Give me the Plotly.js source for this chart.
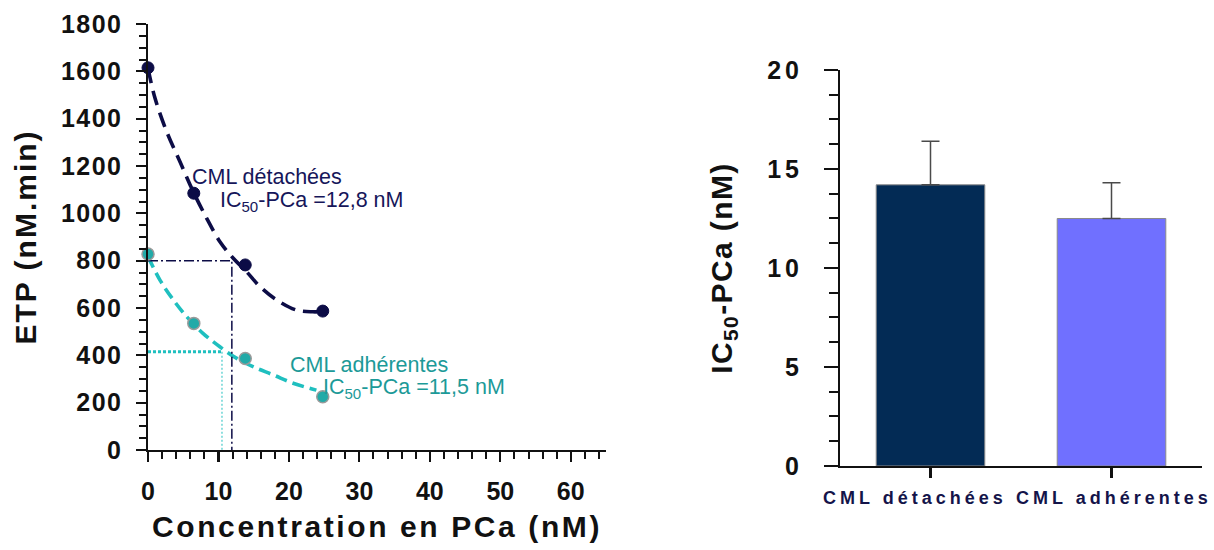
<!DOCTYPE html>
<html>
<head>
<meta charset="utf-8">
<script src="https://cdn.plot.ly/plotly-3.0.1.min.js"></script>
<style>
  html, body { margin: 0; padding: 0; background: #fff; }
  #chart { width: 1214px; height: 550px; }
  .xtitle { letter-spacing: 2.6px; }
  .ytitle { letter-spacing: 2px; }
  .y2title { letter-spacing: 1.4px; }
  .ytick text { letter-spacing: 1.5px; }
  .y2tick text { letter-spacing: 4px; }
  .annotation[data-index="4"] .annotation-text,
  .annotation[data-index="5"] .annotation-text { letter-spacing: 4px; }
</style>
</head>
<body>
<div id="chart"></div>
<script>
// ---- Data ----
const concX = [0, 6.5, 13.8, 24.8];
const etpDetachees = [1615, 1085, 782, 587];
const etpAdherentes = [828, 535, 387, 225];

const fitDetX = [0, 1.0, 2.65, 4.54, 6.43, 8.33, 10.21, 12.1, 14.0, 15.9, 18.26, 21.1, 23.4, 24.8];
const fitDetY = [1613, 1486, 1345, 1218, 1091, 979, 880, 810, 753, 690, 634, 591, 584, 585];
const fitAdhX = [0, 1.7, 3.6, 5.5, 7.8, 10.2, 12.6, 14.9, 17.8, 20.6, 23.9];
const fitAdhY = [817, 718, 634, 563, 493, 436, 387, 352, 317, 282, 253];

const refDetX = [0, 11.9, 11.9];
const refDetY = [800, 800, 0];
const refAdhHX = [0, 10.5];
const refAdhHY = [415, 415];
const refAdhVX = [10.5, 10.5];
const refAdhVY = [415, 0];

const groups = ['CML détachées', 'CML adhérentes'];
const ic50Mean = [14.2, 12.5];
const ic50Err = [2.2, 1.8];

const xTickVals = [0, 10, 20, 30, 40, 50, 60];
const yTickVals = [0, 200, 400, 600, 800, 1000, 1200, 1400, 1600, 1800];
const y2TickVals = [0, 5, 10, 15, 20];

// ---- Styles ----
const NAVY = '#0c0c46';
const TEAL_LINE = '#1fbfbf';
const TEAL_MARK = '#22aaa8';
const TEAL_TEXT = '#1c9a98';
const FONT = 'Arial, "Liberation Sans", sans-serif';

const traces = [
  { x: fitDetX, y: fitDetY, mode: 'lines', line: { color: NAVY, width: 3.6, dash: '15px,8px', shape: 'spline' },
    xaxis: 'x', yaxis: 'y', hoverinfo: 'skip', cliponaxis: false },
  { x: fitAdhX, y: fitAdhY, mode: 'lines', line: { color: TEAL_LINE, width: 3.6, dash: '12px,6px', shape: 'spline' },
    xaxis: 'x', yaxis: 'y', hoverinfo: 'skip', cliponaxis: false },
  { x: refDetX, y: refDetY, mode: 'lines', line: { color: NAVY, width: 1.5, dash: '10px,3px,2px,3px' },
    xaxis: 'x', yaxis: 'y', cliponaxis: false },
  { x: refAdhHX, y: refAdhHY, mode: 'lines', line: { color: TEAL_LINE, width: 3, dash: '3px,2px' },
    xaxis: 'x', yaxis: 'y', cliponaxis: false },
  { x: refAdhVX, y: refAdhVY, mode: 'lines', line: { color: TEAL_LINE, width: 1, dash: '2px,2px' },
    xaxis: 'x', yaxis: 'y', cliponaxis: false },
  { x: concX, y: etpDetachees, mode: 'markers', name: 'CML détachées',
    marker: { color: NAVY, size: 12, line: { color: NAVY, width: 1 } },
    xaxis: 'x', yaxis: 'y', cliponaxis: false },
  { x: concX, y: etpAdherentes, mode: 'markers', name: 'CML adhérentes',
    marker: { color: TEAL_MARK, size: 12, line: { color: '#9a9a9a', width: 1.5 } },
    xaxis: 'x', yaxis: 'y', cliponaxis: false },
  { x: groups, y: ic50Mean, type: 'bar', width: 0.6,
    marker: { color: ['#032b55', '#7070ff'], line: { color: '#8a8a8a', width: 1 } },
    error_y: { type: 'data', array: ic50Err, arrayminus: [0, 0], symmetric: false, color: '#4a4a4a', thickness: 1.5, width: 9 },
    xaxis: 'x2', yaxis: 'y2' }
];

const tickFont = { family: FONT, size: 25, color: '#111', weight: 'bold' };
const titleFont = { family: FONT, size: 30, color: '#111', weight: 'bold' };
const groupFont = { family: FONT, size: 18, color: '#14144a', weight: 'bold' };

const layout = {
  width: 1214, height: 550,
  margin: { l: 148, r: 12, t: 24, b: 84 },
  paper_bgcolor: '#fff', plot_bgcolor: '#fff',
  showlegend: false,
  font: { family: FONT },
  xaxis: {
    domain: [0, 0.43454], range: [0, 65], anchor: 'y',
    tickvals: xTickVals, ticks: 'outside', ticklen: 10, tickwidth: 2.2, tickcolor: '#111',
    minor: { dtick: 2, ticks: 'outside', ticklen: 6.5, tickwidth: 2, tickcolor: '#111' },
    showline: true, linewidth: 2.5, linecolor: '#111', showgrid: false, zeroline: false,
    tickfont: tickFont, ticklabelstandoff: 8,
    title: { text: 'Concentration en PCa (nM)', font: titleFont, standoff: 12 }
  },
  yaxis: {
    domain: [0.0362, 1], range: [0, 1800], anchor: 'x',
    tickvals: yTickVals, ticks: 'outside', ticklen: 10, tickwidth: 2.2, tickcolor: '#111',
    minor: { dtick: 50, ticks: 'outside', ticklen: 7, tickwidth: 2, tickcolor: '#111' },
    showline: true, linewidth: 2.5, linecolor: '#111', showgrid: false, zeroline: false,
    tickfont: tickFont, ticklabelstandoff: 8,
    title: { text: 'ETP (nM.min)', font: titleFont, standoff: 16 }
  },
  xaxis2: {
    domain: [0.65655, 1], range: [-0.5, 1.5], anchor: 'y2', type: 'category',
    ticks: 'outside', ticklen: 10, tickwidth: 2.5, tickcolor: '#111',
    showline: true, linewidth: 2, linecolor: '#111', showgrid: false, zeroline: false,
    showticklabels: false
  },
  yaxis2: {
    domain: [0, 0.89593], range: [0, 20], anchor: 'x2',
    tickvals: y2TickVals, ticks: 'outside', ticklen: 14, tickwidth: 2, tickcolor: '#111',
    minor: { dtick: 1.25, ticks: 'outside', ticklen: 9, tickwidth: 2, tickcolor: '#111' },
    showline: true, linewidth: 2, linecolor: '#111', showgrid: false, zeroline: false,
    tickfont: tickFont, ticklabelstandoff: 16,
    title: { text: 'IC<sub>50</sub>-PCa (nM)', font: titleFont, standoff: 26 }
  },
  annotations: [
    { xref: 'x', yref: 'y', x: 6.0, y: 1152, xanchor: 'left', yanchor: 'middle', showarrow: false,
      text: 'CML détachées', font: { family: FONT, size: 21.5, color: '#16165a' } },
    { xref: 'x', yref: 'y', x: 10.0, y: 1050, xanchor: 'left', yanchor: 'middle', showarrow: false,
      text: 'IC<sub>50</sub>-PCa =12,8 nM', font: { family: FONT, size: 21.5, color: '#16165a' } },
    { xref: 'x', yref: 'y', x: 19.9, y: 360, xanchor: 'left', yanchor: 'middle', showarrow: false,
      text: 'CML adhérentes', font: { family: FONT, size: 21.5, color: TEAL_TEXT } },
    { xref: 'x', yref: 'y', x: 24.5, y: 260, xanchor: 'left', yanchor: 'middle', showarrow: false,
      text: 'IC<sub>50</sub>-PCa =11,5 nM', font: { family: FONT, size: 21.5, color: TEAL_TEXT } },
    { xref: 'x2', yref: 'y2', x: groups[0], y: 0, xanchor: 'center', yanchor: 'top', yshift: -20, xshift: -16,
      showarrow: false, text: groups[0], font: groupFont },
    { xref: 'x2', yref: 'y2', x: groups[1], y: 0, xanchor: 'center', yanchor: 'top', yshift: -20, xshift: 2,
      showarrow: false, text: groups[1], font: groupFont }
  ]
};

Plotly.newPlot('chart', traces, layout, { displayModeBar: false, staticPlot: true });
</script>
</body>
</html>
